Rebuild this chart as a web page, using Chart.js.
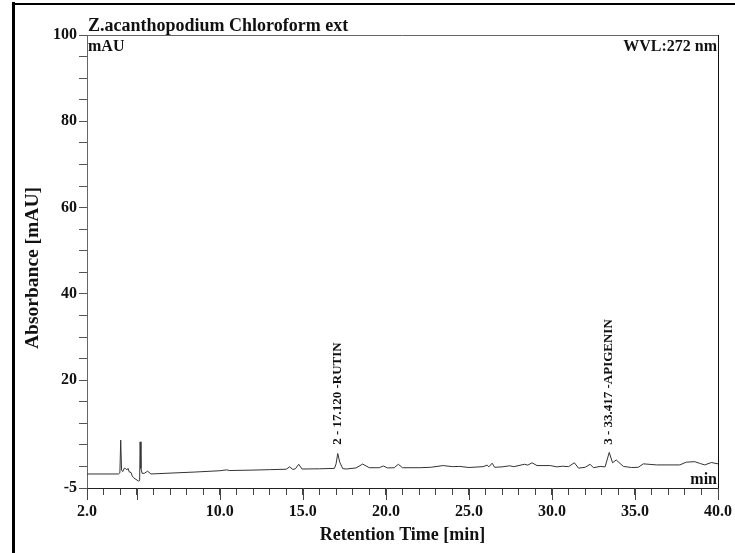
<!DOCTYPE html>
<html><head><meta charset="utf-8">
<script src="https://cdn.jsdelivr.net/npm/chart.js@4/dist/chart.umd.min.js"></script>
<style>html,body{margin:0;padding:0;background:#fff;}</style>
</head><body>
<canvas id="c" width="735" height="553"></canvas>
<script>
// Retention time (min) and absorbance (mAU)
const retentionTime = [2.0, 3.9, 3.98, 4.03, 4.08, 4.15, 4.25, 4.32, 4.4, 4.47, 4.55, 4.65, 4.72, 4.8, 4.95, 5.1, 5.17, 5.2, 5.25, 5.32, 5.45, 5.65, 5.85, 7.0, 8.5, 10.0, 10.4, 10.6, 12.0, 13.0, 14.0, 14.2, 14.4, 14.55, 14.75, 14.95, 16.0, 16.9, 17.0, 17.1, 17.22, 17.4, 17.6, 18.2, 18.6, 19.0, 19.6, 19.85, 20.1, 20.5, 20.75, 21.0, 22.0, 22.7, 23.45, 24.0, 24.45, 25.0, 25.85, 26.1, 26.2, 26.4, 26.55, 27.0, 27.45, 27.7, 28.35, 28.55, 28.8, 29.1, 29.9, 30.3, 30.65, 31.0, 31.35, 31.6, 32.0, 32.3, 32.5, 32.9, 33.2, 33.45, 33.65, 33.87, 34.3, 34.8, 35.2, 35.5, 36.3, 37.7, 38.1, 38.6, 38.95, 39.2, 39.6, 40.0];
const absorbance = [-1.75, -1.75, -1.5, 6.1, -0.8, -1.2, -0.4, -0.5, -0.8, -0.45, -1.3, -1.4, -2.2, -2.6, -3.0, -3.4, -3.3, 5.7, -0.5, -1.6, -1.6, -1.1, -1.75, -1.55, -1.3, -1.0, -0.8, -0.95, -0.85, -0.75, -0.65, -0.1, -0.7, -0.55, 0.5, -0.6, -0.55, -0.45, 0.6, 3.0, 1.0, -0.5, -0.6, -0.35, 0.55, -0.3, -0.3, 0.1, -0.35, -0.3, 0.5, -0.3, -0.3, -0.2, 0.2, -0.05, 0.0, -0.25, -0.05, 0.3, -0.1, 0.75, -0.2, -0.1, 0.15, -0.05, 0.5, 0.3, 0.85, 0.2, 0.2, -0.1, 0.05, -0.05, 0.85, -0.4, -0.2, 0.5, -0.3, 0.0, -0.1, 3.25, 0.85, 1.5, 0.0, -0.25, -0.2, 0.6, 0.35, 0.35, 1.0, 1.1, 0.65, 0.35, 0.9, 0.6];
const xTickLabels = [2, 10, 15, 20, 25, 30, 35, 40];
const xMajorTicks = [2, 5, 10, 15, 20, 25, 30, 35, 40];
const yTickLabels = [-5, 20, 40, 60, 80, 100];
const peakTimes = [17.120, 33.417];
const peakNames = ['2 - 17.120 -RUTIN', '3 - 33.417 -APIGENIN'];
const peakLabelBase = 5.0;
const chartTitle = 'Z.acanthopodium Chloroform ext';
const unitLabel = 'mAU';
const wavelengthLabel = 'WVL:272 nm';
const minLabel = 'min';
const yAxisTitle = 'Absorbance [mAU]';
const xAxisTitle = 'Retention Time [min]';

const SERIF = '"Liberation Serif", "Times New Roman", serif';
const points = retentionTime.map((t, i) => ({x: t, y: absorbance[i]}));

const decor = {
  id: 'decor',
  afterDraw(chart) {
    const {ctx, chartArea: a, scales: {x, y}} = chart;
    ctx.save();
    // frame of the picture (left and top edges)
    ctx.strokeStyle = '#000';
    ctx.lineWidth = 3;
    ctx.beginPath(); ctx.moveTo(13.5, 2); ctx.lineTo(13.5, 553); ctx.stroke();
    ctx.lineWidth = 2;
    ctx.beginPath(); ctx.moveTo(12, 4); ctx.lineTo(735, 4); ctx.stroke();
    // top and right edges of the plot box
    ctx.lineWidth = 1;
    ctx.strokeStyle = '#666';
    ctx.beginPath(); ctx.moveTo(a.left, a.top + 0.5); ctx.lineTo(a.right, a.top + 0.5); ctx.stroke();
    ctx.strokeStyle = '#111';
    ctx.beginPath(); ctx.moveTo(a.right + 0.5, a.top); ctx.lineTo(a.right + 0.5, a.bottom + 2); ctx.stroke();
    // long major ticks on the time axis
    ctx.strokeStyle = '#444';
    xMajorTicks.forEach(v => {
      const px = Math.round(x.getPixelForValue(v)) + 0.5;
      ctx.beginPath(); ctx.moveTo(px, a.bottom); ctx.lineTo(px, a.bottom + 12); ctx.stroke();
    });
    // texts
    ctx.fillStyle = '#111';
    ctx.textBaseline = 'alphabetic';
    ctx.font = 'bold 18px ' + SERIF;
    ctx.textAlign = 'left';
    ctx.fillText(chartTitle, a.left + 1, a.top - 4);
    ctx.font = 'bold 16px ' + SERIF;
    ctx.fillText(unitLabel, a.left + 1, a.top + 16);
    ctx.textAlign = 'right';
    ctx.fillText(wavelengthLabel, a.right - 1, a.top + 16);
    ctx.fillText(minLabel, a.right - 1, a.bottom - 4);
    // axis titles
    ctx.textAlign = 'center';
    ctx.textBaseline = 'middle';
    ctx.font = 'bold 18px ' + SERIF;
    ctx.fillText(xAxisTitle, (a.left + a.right) / 2, 535);
    ctx.save();
    ctx.translate(33, 268);
    ctx.rotate(-Math.PI / 2);
    ctx.font = 'bold 19.5px ' + SERIF;
    ctx.fillText(yAxisTitle, 0, 0);
    ctx.restore();
    // peak labels
    ctx.font = 'bold 13px ' + SERIF;
    ctx.textAlign = 'left';
    ctx.textBaseline = 'middle';
    peakTimes.forEach((t, i) => {
      const px = x.getPixelForValue(t);
      const py = y.getPixelForValue(peakLabelBase);
      ctx.save();
      ctx.translate(px, py);
      ctx.rotate(-Math.PI / 2);
      ctx.fillText(peakNames[i], 0, 0);
      ctx.restore();
    });
    ctx.restore();
  }
};

new Chart(document.getElementById('c'), {
  type: 'line',
  data: {
    datasets: [{
      data: points,
      borderColor: '#333',
      borderWidth: 1,
      pointRadius: 0,
      tension: 0,
      fill: false
    }]
  },
  options: {
    responsive: false,
    animation: false,
    devicePixelRatio: 1,
    layout: {padding: {top: 35, right: 17, left: 0, bottom: 0}},
    plugins: {legend: {display: false}, tooltip: {enabled: false}, title: {display: false}},
    scales: {
      x: {
        type: 'linear', min: 2, max: 40,
        afterFit(s) { s.height = 65; s.paddingLeft = 0; s.paddingRight = 0; },
        ticks: {
          stepSize: 1, autoSkip: false, maxRotation: 0, padding: 7, color: '#111',
          font: {family: SERIF, size: 16, weight: 'bold'},
          callback: v => xTickLabels.includes(v) ? v.toFixed(1) : ''
        },
        grid: {drawOnChartArea: false, drawTicks: true, tickLength: 7, color: '#444', tickColor: '#444'},
        border: {display: true, color: '#222', width: 1},
        title: {display: false}
      },
      y: {
        type: 'linear', min: -5, max: 100,
        afterFit(s) { s.width = 87; s.paddingTop = 0; s.paddingBottom = 0; },
        ticks: {
          stepSize: 5, autoSkip: false, padding: 2, color: '#111',
          font: {family: SERIF, size: 16, weight: 'bold'},
          callback: v => yTickLabels.includes(v) ? String(v) : ''
        },
        grid: {drawOnChartArea: false, drawTicks: true, tickLength: 8, color: '#555', tickColor: '#555'},
        border: {display: true, color: '#666', width: 1},
        title: {display: false}
      }
    }
  },
  plugins: [decor]
});
</script>
</body></html>
